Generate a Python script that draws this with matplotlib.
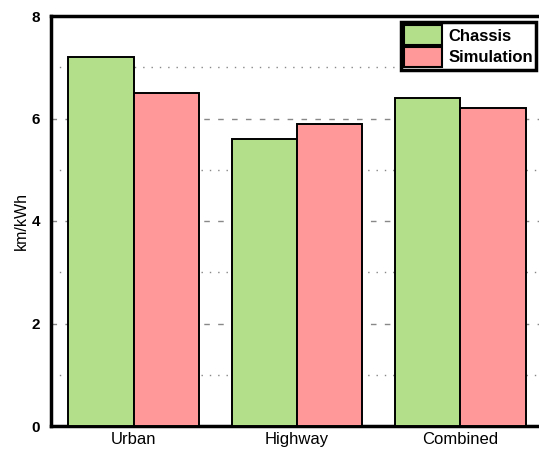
import matplotlib
matplotlib.use("Agg")
import matplotlib.pyplot as plt
import numpy as np
from matplotlib.ticker import MultipleLocator

categories = ["Urban", "Highway", "Combined"]
chassis = [7.2, 5.6, 6.4]
simulation = [6.5, 5.9, 6.2]
series_names = ["Chassis", "Simulation"]

plt.rcParams["font.family"] = ["Liberation Sans", "DejaVu Sans"]

fig = plt.figure(figsize=(5.39, 4.5), dpi=100)
ax = fig.add_axes([51 / 539, 1 - 426 / 450, 492 / 539, 410 / 450])

x = np.arange(len(categories))
w = 0.4
green = "#b3df8a"
red = "#ff9999"
ax.bar(x - w / 2, chassis, w, color=green, edgecolor="black", linewidth=1.4,
       label=series_names[0], zorder=3)
ax.bar(x + w / 2, simulation, w, color=red, edgecolor="black", linewidth=1.4,
       label=series_names[1], zorder=3)

ax.set_xlim(-0.505, 2.505)
ax.set_ylim(0, 8)
ax.set_xticks(x)
ax.set_xticklabels(categories, fontsize=12)
ax.yaxis.set_major_locator(MultipleLocator(2))
ax.yaxis.set_minor_locator(MultipleLocator(1))
ax.grid(axis="y", which="major", linestyle=(0, (4, 6)), color="#888888", linewidth=1, zorder=0)
ax.grid(axis="y", which="minor", linestyle=(0, (1, 5)), color="#888888", linewidth=1, zorder=0)
ax.tick_params(axis="y", which="both", length=0, labelsize=11, pad=8)
ax.tick_params(axis="x", length=0, pad=4)
for lab in ax.get_yticklabels():
    lab.set_fontweight("bold")
ax.set_ylabel("km/kWh", fontsize=11.5, labelpad=2)

for s in ["left", "bottom", "top"]:
    ax.spines[s].set_linewidth(2.5)
ax.spines["right"].set_visible(False)

leg = ax.legend(loc="upper right", bbox_to_anchor=(485 / 492, 1 - 6 / 410),
                prop={"weight": "bold", "size": 12},
                handlelength=2.3, handleheight=1.45, handletextpad=0.35,
                borderpad=0.2, labelspacing=0.1, borderaxespad=0,
                fancybox=False, framealpha=1)
leg.get_frame().set_edgecolor("black")
leg.get_frame().set_linewidth(2.5)
for h in leg.legend_handles:
    h.set_linewidth(1.5)

fig.savefig("out.png", dpi=100)
